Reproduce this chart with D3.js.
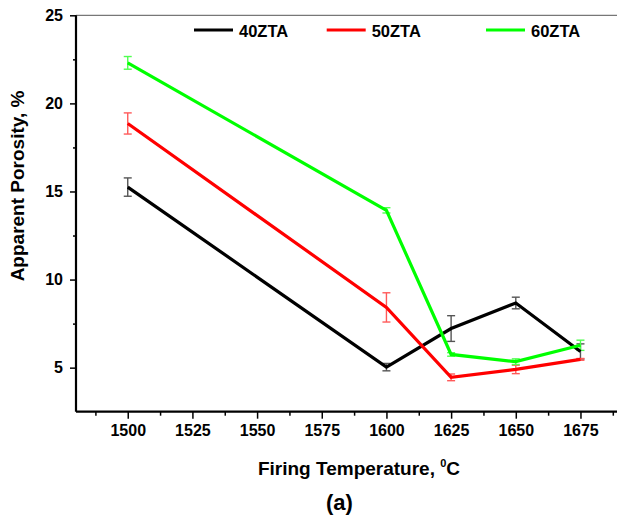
<!DOCTYPE html>
<html><head><meta charset="utf-8">
<script src="https://cdn.jsdelivr.net/npm/d3@7"></script>
<style>body{margin:0;background:#fff}svg{display:block}text{font-family:"Liberation Sans",Arial,sans-serif;font-weight:bold;fill:#000}</style>
</head><body><svg id="c" width="617" height="516"></svg>
<script>
const temperatures = [1500, 1600, 1625, 1650, 1675];
const seriesNames = ["40ZTA", "50ZTA", "60ZTA"];
const seriesColors = ["#000000", "#ff0000", "#00ff00"];
const errColors = ["#555555", "#ff5a5a", "#50ff50"];
const porosity40 = [15.25, 5.03, 7.22, 8.67, 5.92];
const err40 = [0.52, 0.21, 0.73, 0.33, 0.43];
const porosity50 = [18.86, 8.42, 4.45, 4.90, 5.47];
const err50 = [0.60, 0.83, 0.19, 0.24, 0.05];
const porosity60 = [22.30, 13.93, 5.75, 5.34, 6.27];
const err60 = [0.36, 0.15, 0.10, 0.16, 0.29];
const xTicks = [1500, 1525, 1550, 1575, 1600, 1625, 1650, 1675];
const xMinor = [1487.5, 1512.5, 1537.5, 1562.5, 1587.5, 1612.5, 1637.5, 1662.5, 1687.5];
const yTicks = [5, 10, 15, 20, 25];
const yMinor = [7.5, 12.5, 17.5, 22.5];

const values = [porosity40, porosity50, porosity60];
const errs = [err40, err50, err60];

const svg = d3.select("#c");
const mLeft = 76, mTop = 15.3, mBottom = 411.7;
const x = d3.scaleLinear().domain([1480, 1690]).range([mLeft, mLeft + 210 * 2.587]);
const y = d3.scaleLinear().domain([2.5, 25]).range([mBottom, mTop]);

// top frame line
svg.append("line").attr("x1", mLeft).attr("x2", 617).attr("y1", mTop).attr("y2", mTop)
  .attr("stroke", "#777").attr("stroke-width", 1.2);

// Axes
const gx = svg.append("g").attr("transform", `translate(0,${mBottom})`)
  .call(d3.axisBottom(x).tickValues(xTicks).tickSize(7).tickPadding(6).tickFormat(d3.format("d")));
const gxm = svg.append("g").attr("transform", `translate(0,${mBottom})`)
  .call(d3.axisBottom(x).tickValues(xMinor).tickSize(4).tickFormat(""));
const gy = svg.append("g").attr("transform", `translate(${mLeft},0)`)
  .call(d3.axisLeft(y).tickValues(yTicks).tickSize(6).tickPadding(7).tickFormat(d3.format("d")));
const gym = svg.append("g").attr("transform", `translate(${mLeft},0)`)
  .call(d3.axisLeft(y).tickValues(yMinor).tickSize(3).tickFormat(""));
[gx, gxm, gy, gym].forEach(g => {
  g.select(".domain").attr("stroke", "#000").attr("stroke-width", 2.2);
  g.selectAll(".tick line").attr("stroke", "#000").attr("stroke-width", 1.5);
  g.selectAll("text").attr("font-size", 16).attr("font-family", '"Liberation Sans",Arial,sans-serif').attr("font-weight", "bold").attr("fill", "#000");
});
gxm.select(".domain").remove(); gym.select(".domain").remove();
gx.select(".domain").attr("d", `M${mLeft},0H617`);
gy.select(".domain").attr("d", `M0,${mTop}V${mBottom}`);

// Error bars
values.forEach((vals, s) => {
  const g = svg.append("g").attr("stroke", errColors[s]).attr("stroke-width", 1.4).attr("fill", "none");
  temperatures.forEach((t, i) => {
    const cx = x(t), y1 = y(vals[i] + errs[s][i]), y2 = y(vals[i] - errs[s][i]);
    g.append("line").attr("x1", cx).attr("x2", cx).attr("y1", y1).attr("y2", y2);
    g.append("line").attr("x1", cx - 4).attr("x2", cx + 4).attr("y1", y1).attr("y2", y1);
    g.append("line").attr("x1", cx - 4).attr("x2", cx + 4).attr("y1", y2).attr("y2", y2);
  });
});

// Lines
const line = d3.line().x((d, i) => x(temperatures[i])).y(d => y(d));
values.forEach((vals, s) => {
  svg.append("path").datum(vals).attr("d", line).attr("fill", "none")
    .attr("stroke", seriesColors[s]).attr("stroke-width", 3.2).attr("stroke-linejoin", "miter");
});

// Legend
const legX = [194, 326.7, 486];
seriesNames.forEach((n, s) => {
  svg.append("line").attr("x1", legX[s]).attr("x2", legX[s] + 39).attr("y1", 30).attr("y2", 30)
    .attr("stroke", seriesColors[s]).attr("stroke-width", 3);
  svg.append("text").attr("x", legX[s] + 45).attr("y", 36.5).attr("font-size", 16.5).text(n);
});

// Axis titles
const xt = svg.append("text").attr("x", 359).attr("y", 475).attr("text-anchor", "middle").attr("font-size", 19);
xt.append("tspan").text("Firing Temperature, ");
xt.append("tspan").attr("font-size", 11).attr("dy", -8).text("0");
xt.append("tspan").attr("dy", 8).text("C");

svg.append("text").attr("transform", "translate(24,186) rotate(-90)").attr("text-anchor", "middle")
  .attr("font-size", 19).text("Apparent Porosity, %");

svg.append("text").attr("x", 339.5).attr("y", 510).attr("text-anchor", "middle").attr("font-size", 22).text("(a)");
</script></body></html>
